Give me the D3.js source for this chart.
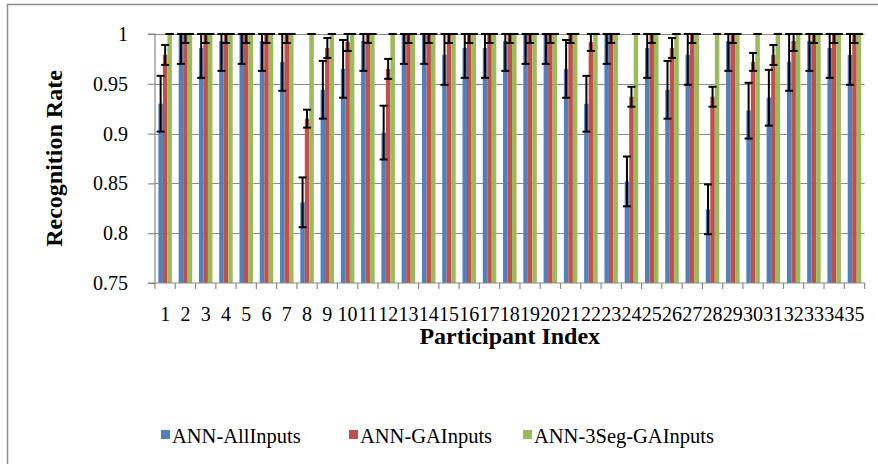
<!DOCTYPE html>
<html>
<head>
<meta charset="utf-8">
<script src="https://cdn.jsdelivr.net/npm/d3@7"></script>
<style>
  html, body { margin: 0; padding: 0; background: #fff; }
  svg { display: block; }
  text { font-family: "Liberation Serif", "Times New Roman", serif; fill: #000; }
</style>
</head>
<body>
<svg id="chart" width="878" height="464"></svg>
<script>
// ---- data ----
const participants = d3.range(1, 36).map(String);
const seriesNames = ["ANN-AllInputs", "ANN-GAInputs", "ANN-3Seg-GAInputs"];
const seriesColors = ["#4F81BD", "#C0504D", "#9BBB59"];

const allInputs = [0.930,1.000,0.986,0.993,1.000,0.993,0.972,0.831,0.944,0.965,
                   0.993,0.901,1.000,1.000,0.979,0.986,0.986,0.993,1.000,1.000,
                   0.965,0.930,1.000,0.852,0.986,0.944,0.979,0.824,0.993,0.923,
                   0.936,0.972,0.993,0.986,0.979];
const allInputsErr = [0.028,0.030,0.030,0.030,0.030,0.030,0.029,0.025,0.029,0.029,
                      0.030,0.027,0.030,0.030,0.030,0.030,0.030,0.030,0.030,0.030,
                      0.029,0.028,0.030,0.025,0.030,0.029,0.030,0.025,0.030,0.028,
                      0.028,0.029,0.030,0.030,0.030];
const gaInputs = [0.979,1.000,1.000,1.000,1.000,1.000,1.000,0.915,0.986,0.992,
                  1.000,0.965,1.000,1.000,1.000,1.000,1.000,1.000,1.000,1.000,
                  1.000,0.992,1.000,0.937,1.000,0.986,1.000,0.937,1.000,0.972,
                  0.979,0.993,1.000,1.000,1.000];
const gaInputsErr = [0.010,0.009,0.009,0.009,0.009,0.009,0.009,0.009,0.010,0.009,
                     0.009,0.010,0.009,0.009,0.009,0.009,0.009,0.009,0.009,0.009,
                     0.009,0.009,0.009,0.010,0.009,0.010,0.009,0.010,0.009,0.009,
                     0.010,0.010,0.009,0.009,0.009];
const seg3 = participants.map(() => 1.0);
const seg3Err = participants.map(() => 0.0);

const yTicks = [0.75, 0.8, 0.85, 0.9, 0.95, 1];
const yTickLabels = ["0.75", "0.8", "0.85", "0.9", "0.95", "1"];

// ---- layout ----
const svg = d3.select("#chart");
const plot = { left: 155, right: 864.6, top: 34, bottom: 283 };

const x0 = d3.scaleBand().domain(participants).range([plot.left, plot.right]).padding(0);
const x1 = d3.scaleBand().domain(seriesNames).range([0, x0.bandwidth()])
  .paddingInner(0).paddingOuter(0.75);
const y = d3.scaleLinear().domain([0.75, 1]).range([plot.bottom, plot.top]);

// chart-area border (extends beyond the picture on right/bottom)
svg.append("rect").attr("x", 7.5).attr("y", 4.5).attr("width", 1000).attr("height", 1000)
  .attr("fill", "none").attr("stroke", "#8c8c8c").attr("stroke-width", 1.5);

// gridlines
svg.append("g").selectAll("line").data(yTicks.filter(d => d > 0.75)).join("line")
  .attr("x1", plot.left).attr("x2", plot.right)
  .attr("y1", d => Math.round(y(d)) + 0.5).attr("y2", d => Math.round(y(d)) + 0.5)
  .attr("stroke", "#8a8a8a").attr("stroke-width", 1.2);

// bars
const series = [
  { name: seriesNames[0], vals: allInputs, errs: allInputsErr, color: seriesColors[0] },
  { name: seriesNames[1], vals: gaInputs, errs: gaInputsErr, color: seriesColors[1] },
  { name: seriesNames[2], vals: seg3, errs: seg3Err, color: seriesColors[2] }
];
const rows = [];
series.forEach(s => s.vals.forEach((v, i) => rows.push({
  cat: participants[i], series: s.name, v: v, e: s.errs[i], color: s.color
})));

svg.append("g").selectAll("rect").data(rows).join("rect")
  .attr("x", d => x0(d.cat) + x1(d.series))
  .attr("width", x1.bandwidth())
  .attr("y", d => y(d.v))
  .attr("height", d => y(0.75) - y(d.v))
  .attr("fill", d => d.color);

// error bars (clipped to 1)
const capW = 8;
const eb = svg.append("g").attr("stroke", "#000").attr("stroke-width", 2);
rows.forEach(d => {
  const cx = x0(d.cat) + x1(d.series) + x1.bandwidth() / 2;
  const lo = Math.max(0.75, d.v - d.e), hi = Math.min(1, d.v + d.e);
  eb.append("line").attr("x1", cx).attr("x2", cx).attr("y1", y(lo)).attr("y2", y(hi));
  [lo, hi].forEach(t => eb.append("line")
    .attr("x1", cx - capW / 2).attr("x2", cx + capW / 2)
    .attr("y1", y(t)).attr("y2", y(t)));
});

// y axis
const yAxis = d3.axisLeft(y).tickValues(yTicks)
  .tickFormat((d, i) => yTickLabels[i]).tickSize(7).tickPadding(20);
const gy = svg.append("g").attr("transform", `translate(${plot.left},0)`).call(yAxis);
gy.selectAll("path, line").attr("stroke", "#8a8a8a").attr("stroke-width", 1.2);
gy.select("path").attr("d", `M-7,${y(0.75)}H0V${y(1)}H-7`);
gy.selectAll("text").attr("font-size", 20).attr("font-family", "Liberation Serif");

// x axis
const xAxis = d3.axisBottom(x0).tickSize(0).tickPadding(24);
const gx = svg.append("g").attr("transform", `translate(0,${plot.bottom})`).call(xAxis);
gx.select("path").attr("stroke", "#8a8a8a").attr("stroke-width", 1.2)
  .attr("d", `M${plot.left},0H${plot.right}`);
gx.selectAll("text").attr("font-size", 20).attr("font-family", "Liberation Serif");
// category boundary ticks
svg.append("g").selectAll("line").data(participants.concat(["end"])).join("line")
  .attr("x1", (d, i) => plot.left + i * x0.step()).attr("x2", (d, i) => plot.left + i * x0.step())
  .attr("y1", plot.bottom).attr("y2", plot.bottom + 6)
  .attr("stroke", "#8a8a8a").attr("stroke-width", 1.2);

// axis titles
svg.append("text").attr("x", (plot.left + plot.right) / 2).attr("y", 344)
  .attr("text-anchor", "middle").attr("font-size", 24).attr("font-weight", "bold")
  .text("Participant Index");
svg.append("text").attr("transform", `translate(62,${(plot.top + plot.bottom) / 2}) rotate(-90)`)
  .attr("text-anchor", "middle").attr("font-size", 24).attr("font-weight", "bold")
  .text("Recognition Rate");

// legend
const legendX = [161, 349, 523];
const lg = svg.append("g");
series.forEach((s, i) => {
  lg.append("rect").attr("x", legendX[i]).attr("y", 430).attr("width", 9).attr("height", 9)
    .attr("fill", s.color);
  lg.append("text").attr("x", legendX[i] + 11).attr("y", 443).attr("font-size", 20.5)
    .text(s.name);
});
</script>
</body>
</html>
